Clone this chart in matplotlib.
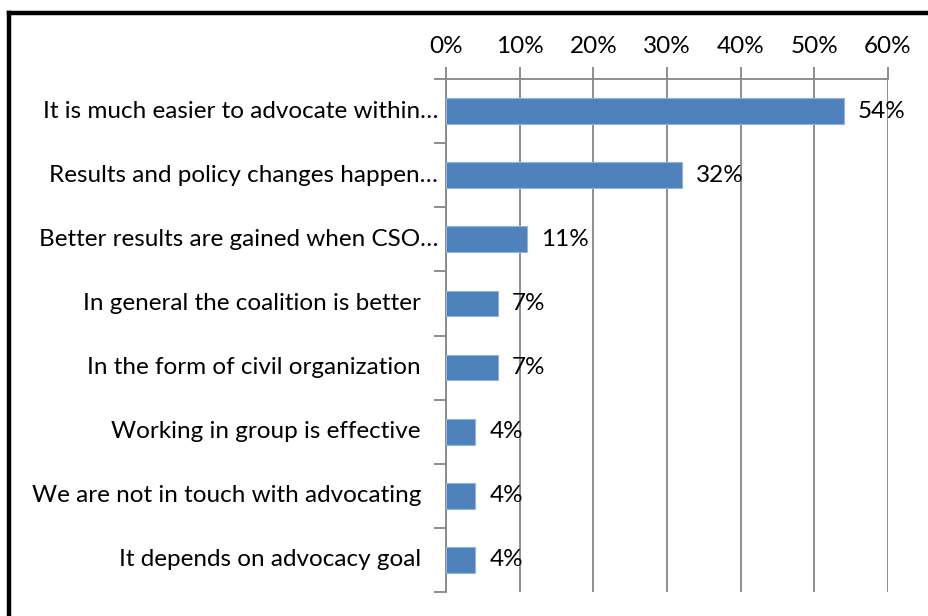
import matplotlib.pyplot as plt
from matplotlib.lines import Line2D
from matplotlib.transforms import offset_copy
import numpy as np

categories = [
    "It is much easier to advocate within\u2026",
    "Results and policy changes happen\u2026",
    "Better results are gained when CSO\u2026",
    "In general the coalition is better",
    "In the form of civil organization",
    "Working in group is effective",
    "We are not in touch with advocating",
    "It depends on advocacy goal",
]
values = [54, 32, 11, 7, 7, 4, 4, 4]
truncated = [True, True, True, False, False, False, False, False]

plt.rcParams['font.family'] = ['Lato', 'DejaVu Sans']
FS = 17.5
GRID = '#868686'

fig = plt.figure(figsize=(9.29, 6.16), dpi=100)
ax = fig.add_axes([446 / 929, 1 - 592 / 616, 442 / 929, 513 / 616])

y = np.arange(len(categories))
ax.barh(y, values, height=0.4, color='#4F81BD', edgecolor='#95B3D7', linewidth=0.8, zorder=3)

ax.set_xlim(0, 60)
ax.set_ylim(len(categories) - 0.5, -0.5)

ax.xaxis.tick_top()
ax.set_xticks(np.arange(0, 61, 10))
ax.set_xticklabels([f"{v}%" for v in range(0, 61, 10)], fontsize=FS)
ax.tick_params(axis='x', length=9, color=GRID, width=1.3, pad=7)
ax.grid(axis='x', color=GRID, linewidth=1.3, zorder=1)

# category boundaries get the tick marks, names are placed separately
ax.set_yticks(np.arange(len(categories) + 1) - 0.5)
ax.set_yticklabels([])
ax.tick_params(axis='y', length=9, color=GRID, width=1.3)

for side in ['right', 'bottom']:
    ax.spines[side].set_visible(False)
ax.spines['top'].set_color(GRID)
ax.spines['top'].set_linewidth(1.3)
ax.spines['left'].set_color(GRID)
ax.spines['left'].set_linewidth(1.3)

for yi, name, cut in zip(y, categories, truncated):
    shift = -8 if cut else -25
    tr = offset_copy(ax.get_yaxis_transform(), fig=fig, x=shift, units='dots')
    ax.text(0, yi, name, transform=tr, ha='right', va='center', fontsize=FS)

for yi, v in zip(y, values):
    tr = offset_copy(ax.transData, fig=fig, x=14, units='dots')
    ax.text(v, yi, f"{v}%", transform=tr, ha='left', va='center', fontsize=FS, zorder=4)

# outer frame
fig.add_artist(Line2D([9 / 929, 9 / 929], [0, 1 - 13 / 616], color='black', linewidth=3.2))
fig.add_artist(Line2D([9 / 929, 1], [1 - 13 / 616, 1 - 13 / 616], color='black', linewidth=3.2))

fig.savefig('out.png', dpi=100)
